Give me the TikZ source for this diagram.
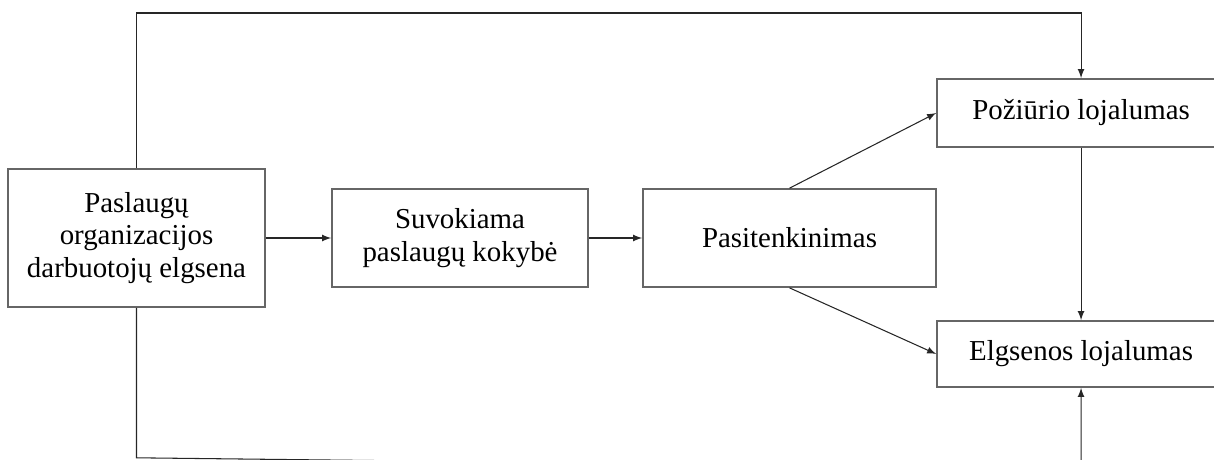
\documentclass[tikz,border=0pt]{standalone}
\usepackage{fontspec}
\setmainfont{Liberation Serif}
\usepackage{tikz}

\begin{document}
\begin{tikzpicture}[box/.style={draw=black!60, line width=0.8pt, align=center, inner sep=0pt, font=\fontsize{13.7}{15.3}\selectfont},
                    link/.style={-latex, line width=0.5pt, draw=black!85}]
              \clip (0,0) rectangle (20.233,7.65);
              \node[box, minimum width=4.283cm, minimum height=2.3cm] (emp) at (2.275,3.683) {Paslaugų\\organizacijos\\darbuotojų elgsena};
              \node[box, minimum width=4.267cm, minimum height=1.633cm] (qual) at (7.667,3.683) {Suvokiama\\paslaugų kokybė};
              \node[box, minimum width=4.883cm, minimum height=1.633cm] (sat) at (13.158,3.683) {Pasitenkinimas};
              \node[box, minimum width=4.8cm, minimum height=1.133cm] (att) at (18.017,5.767) {Požiūrio lojalumas};
              \node[box, minimum width=4.8cm, minimum height=1.1cm] (beh) at (18.017,1.75) {Elgsenos lojalumas};
              \coordinate (top) at (0,7.433);
              \coordinate (bl) at (2.275,0.02);
              \coordinate (br) at (18.017,-0.16);
                \draw[link] (emp) -- (qual);
                \draw[link] (qual) -- (sat);
                \draw[link] (sat.north) -- (att.west);
                \draw[link] (sat.south) -- (beh.west);
                \draw[link] (att) -- (beh);
                \draw[link] (emp.north) -- (emp.north |- top) -| (att.north);
                \draw[link] (emp.south) -- (bl) -- (br) -- (beh.south);
          \end{tikzpicture}
\end{document}
